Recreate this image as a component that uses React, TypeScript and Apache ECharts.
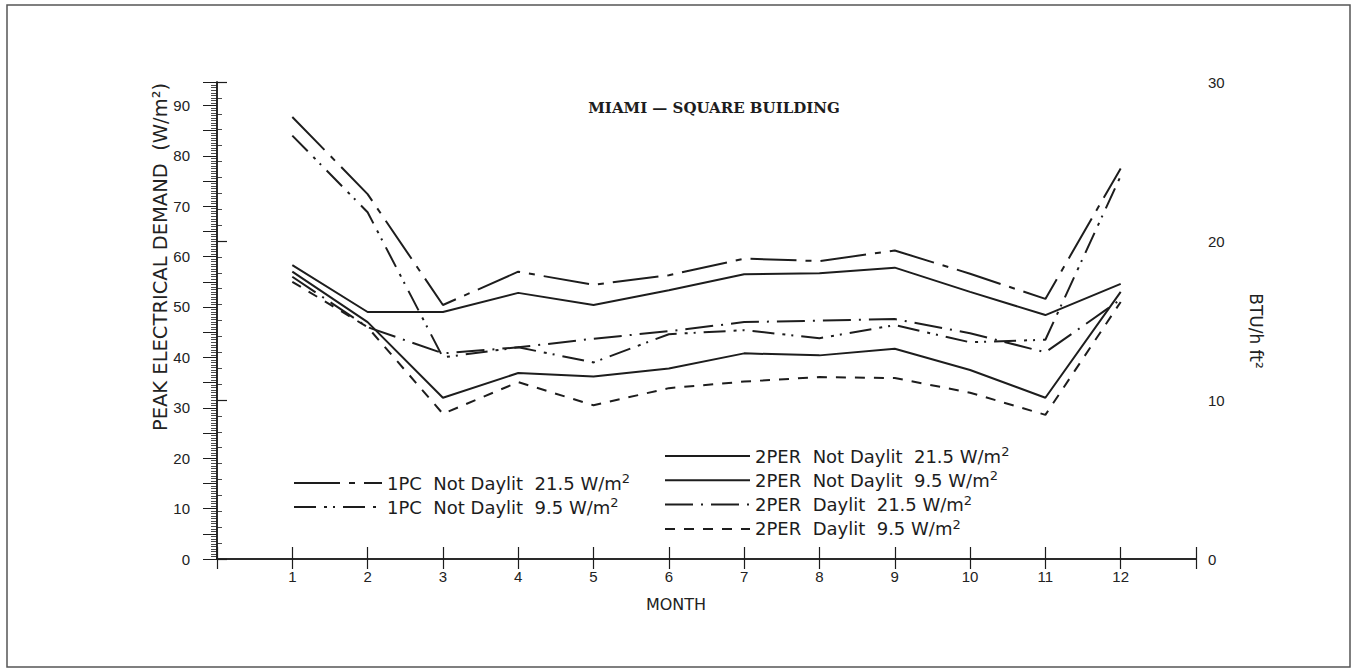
import React, { useEffect, useRef } from "react";
import * as echarts from "echarts";

// Months on the x axis
const months = [1, 2, 3, 4, 5, 6, 7, 8, 9, 10, 11, 12];

// Peak electrical demand (W/m2)
const pc1NotDaylit215 = [87.7, 72.4, 50.4, 57.0, 54.4, 56.3, 59.6, 59.1, 61.2, 56.6, 51.6, 77.5];
const pc1NotDaylit95 = [84.0, 68.8, 40.0, 42.0, 39.0, 44.6, 45.4, 43.8, 46.4, 43.0, 43.5, 76.0];
const per2NotDaylit215 = [58.3, 49.0, 49.0, 52.8, 50.4, 53.3, 56.5, 56.7, 57.8, 53.0, 48.4, 54.6];
const per2NotDaylit95 = [57.0, 47.0, 32.0, 36.9, 36.2, 37.8, 40.8, 40.4, 41.7, 37.5, 32.0, 53.0];
const per2Daylit215 = [56.0, 46.0, 40.8, 42.0, 43.7, 45.2, 47.0, 47.3, 47.6, 44.8, 41.0, 51.5];
const per2Daylit95 = [55.0, 46.0, 28.8, 35.1, 30.5, 33.9, 35.2, 36.1, 35.9, 33.0, 28.6, 51.0];

const seriesNames = [
  "1PC  Not Daylit  21.5 W/m2",
  "1PC  Not Daylit  9.5 W/m2",
  "2PER  Not Daylit  21.5 W/m2",
  "2PER  Not Daylit  9.5 W/m2",
  "2PER  Daylit  21.5 W/m2",
  "2PER  Daylit  9.5 W/m2",
];

const leftTicks = [0, 10, 20, 30, 40, 50, 60, 70, 80, 90];
const rightTicks = [0, 10, 20, 30];
const W_TO_BTU = 0.317;

export default function App() {
  const ref = useRef<HTMLDivElement>(null);

  useEffect(() => {
    const chart = echarts.init(ref.current as HTMLDivElement, null, { renderer: "svg" });
    const ink = "#1d1d1d";
    const font = "Liberation Sans";
    const wide = "DejaVu Sans";
    const leftMax = rightTicks[rightTicks.length - 1] / W_TO_BTU;

    const mk = (name: string, values: number[], dash: any, width = 2) => ({
      name,
      type: "line",
      xAxisIndex: 0,
      yAxisIndex: 0,
      data: months.map((m, i) => [m, values[i]]),
      showSymbol: false,
      symbol: "none",
      silent: true,
      lineStyle: { color: ink, width, type: dash },
      itemStyle: { color: ink },
    });

    const legendFormatter = (name: string) => {
      const base = name.slice(0, -1);
      return `{t|${base}}{s|2}`;
    };
    const legendText = {
      color: ink,
      rich: {
        t: { fontSize: 18, fontFamily: wide, color: ink, lineHeight: 22 },
        s: { fontSize: 13, fontFamily: wide, color: ink, lineHeight: 10, verticalAlign: "top" },
      },
    };
    const legendCommon = {
      orient: "vertical",
      itemHeight: 14,
      selectedMode: false,
      formatter: legendFormatter,
      textStyle: legendText,
      itemStyle: { opacity: 0 },
    };

    chart.setOption({
      animation: false,
      backgroundColor: "#ffffff",
      grid: { left: 217, right: 160, top: 82, bottom: 111, containLabel: false },
      xAxis: [
        {
          type: "value",
          position: "bottom",
          min: 0,
          max: 13,
          interval: 1,
          axisLine: { show: true, lineStyle: { color: ink, width: 1.5 } },
          axisTick: { show: true, inside: false, length: 10, lineStyle: { color: ink, width: 1.2 } },
          axisLabel: {
            margin: 10,
            fontSize: 15,
            fontFamily: font,
            color: "#222",
            formatter: (v: number) => (months.includes(v) ? String(v) : ""),
          },
          splitLine: { show: false },
        },
        {
          type: "value",
          position: "top",
          min: 0,
          max: 13,
          interval: 1,
          axisLine: { show: true, lineStyle: { color: ink, width: 1.5 } },
          axisTick: { show: true, inside: false, length: 12, lineStyle: { color: ink, width: 1.2 } },
          axisLabel: { show: false },
          splitLine: { show: false },
        },
      ],
      yAxis: [
        {
          type: "value",
          position: "left",
          min: 0,
          max: leftMax,
          interval: 5,
          axisLine: { show: true, lineStyle: { color: ink, width: 1.5 } },
          axisTick: { show: true, inside: false, length: 14, lineStyle: { color: ink, width: 1 } },
          minorTick: { show: true, splitNumber: 10, length: 6, lineStyle: { color: ink, width: 0.8 } },
          axisLabel: {
            margin: 27,
            fontSize: 15,
            fontFamily: font,
            color: "#222",
            formatter: (v: number) => (leftTicks.includes(Math.round(v * 1000) / 1000) ? String(v) : ""),
          },
          splitLine: { show: false },
          minorSplitLine: { show: false },
        },
        {
          type: "value",
          position: "right",
          min: 0,
          max: rightTicks[rightTicks.length - 1],
          interval: 10,
          axisLine: { show: true, lineStyle: { color: ink, width: 1.5 } },
          axisTick: { show: true, inside: false, length: 10, lineStyle: { color: ink, width: 1.2 } },
          minorTick: { show: true, splitNumber: 10, length: 5, lineStyle: { color: ink, width: 0.8 } },
          axisLabel: {
            margin: 12,
            fontSize: 15,
            fontFamily: font,
            color: "#222",
            formatter: (v: number) => (rightTicks.includes(v) ? String(v) : ""),
          },
          splitLine: { show: false },
        },
      ],
      legend: [
        {
          ...legendCommon,
          data: [seriesNames[0], seriesNames[1]],
          left: 288,
          top: 467,
          itemWidth: 88,
          itemGap: 4,
        },
        {
          ...legendCommon,
          data: [seriesNames[2], seriesNames[3], seriesNames[4], seriesNames[5]],
          left: 659,
          top: 440,
          itemWidth: 85,
          itemGap: 4.3,
        },
      ],
      series: [
        mk(seriesNames[0], pc1NotDaylit215, [46, 9, 6, 9]),
        mk(seriesNames[1], pc1NotDaylit95, [22, 8, 3, 6, 2, 8]),
        mk(seriesNames[2], per2NotDaylit215, "solid"),
        mk(seriesNames[3], per2NotDaylit95, "solid"),
        mk(seriesNames[4], per2Daylit215, [28, 8, 2, 8]),
        mk(seriesNames[5], per2Daylit95, [10, 9]),
      ],
      graphic: [
        {
          type: "rect",
          silent: true,
          z: -10,
          shape: { x: 7, y: 5, width: 1343, height: 662 },
          style: { fill: "none", stroke: "#555", lineWidth: 1.5 },
        },
        {
          type: "text",
          silent: true,
          x: 714,
          y: 108,
          style: {
            text: "MIAMI — SQUARE BUILDING",
            font: "bold 15px 'DejaVu Serif'",
            fill: ink,
            align: "center",
            verticalAlign: "middle",
          },
        },
        {
          type: "text",
          silent: true,
          x: 160,
          y: 257,
          rotation: Math.PI / 2,
          style: {
            text: "PEAK ELECTRICAL DEMAND  (W/m²)",
            font: "19.5px 'DejaVu Sans'",
            fill: "#222",
            align: "center",
            verticalAlign: "middle",
          },
        },
        {
          type: "text",
          silent: true,
          x: 1256,
          y: 331,
          rotation: -Math.PI / 2,
          style: {
            text: "BTU/h ft²",
            font: "17px 'DejaVu Sans'",
            fill: "#222",
            align: "center",
            verticalAlign: "middle",
          },
        },
        {
          type: "text",
          silent: true,
          x: 676,
          y: 604,
          style: {
            text: "MONTH",
            font: "16px 'DejaVu Sans'",
            fill: "#222",
            align: "center",
            verticalAlign: "middle",
          },
        },
      ],
    });

    return () => chart.dispose();
  }, []);

  return (
    <div
      ref={ref}
      style={{ position: "fixed", left: 0, top: 0, width: 1356, height: 670, background: "#fff" }}
    />
  );
}
